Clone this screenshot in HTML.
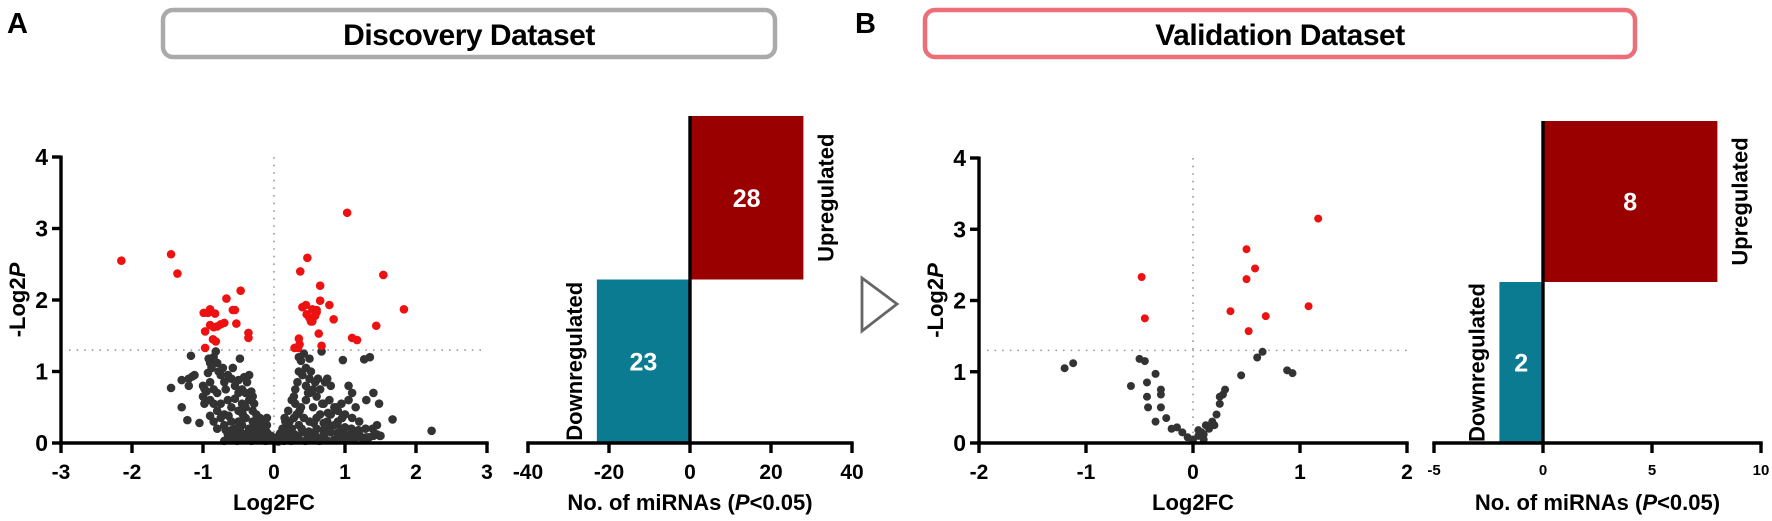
<!DOCTYPE html>
<html><head><meta charset="utf-8">
<style>
html,body{margin:0;padding:0;background:#fff;}
svg{display:block;font-family:"Liberation Sans",sans-serif;}
</style></head>
<body>
<svg id="fig" width="1772" height="521" viewBox="0 0 1772 521">
  <text x="7" y="33" font-size="29" font-weight="bold">A</text>
  <rect x="163" y="10" width="612" height="47" rx="10" fill="#fff" stroke="#aaa" stroke-width="4.5"/>
  <text x="469" y="45" font-size="30" font-weight="bold" text-anchor="middle" letter-spacing="-0.5">Discovery Dataset</text>
  <text x="855" y="33" font-size="29" font-weight="bold">B</text>
  <rect x="925" y="10" width="710" height="47" rx="10" fill="#fff" stroke="#ec6f78" stroke-width="4.5"/>
  <text x="1280" y="45" font-size="30" font-weight="bold" text-anchor="middle" letter-spacing="-0.5">Validation Dataset</text>
  <polygon points="862,278 897,304 862,331" fill="none" stroke="#666" stroke-width="2.8"/>
  <g id="layer"></g>
</svg>
<script>
// ---- data: Discovery volcano ----
const aRedX = [-2.15,-1.45,-1.36,-0.99,-0.93,-0.9,-0.83,-0.97,-0.97,-0.9,-0.85,-0.8,-0.75,-0.7,-0.67,-0.58,-0.55,-0.47,-0.53,-0.36,-0.36,-0.86,-0.82,
  0.29,0.34,0.35,0.36,0.37,0.47,0.4,0.45,0.46,0.5,0.54,0.54,0.6,0.6,0.65,0.65,0.63,0.67,0.78,0.84,1.03,1.1,1.17,1.44,1.54,1.83,0.58,0.52];
const aRedY = [2.55,2.64,2.37,1.82,1.82,1.87,1.81,1.56,1.33,1.65,1.62,1.63,1.66,1.68,2.02,1.86,1.86,2.13,1.67,1.54,1.47,1.45,1.42,
  1.33,1.33,1.46,1.38,2.4,2.59,1.9,1.93,1.8,1.75,1.7,1.87,1.86,1.83,2.2,1.99,1.53,1.36,1.93,1.73,3.22,1.47,1.44,1.64,2.35,1.87,1.78,1.7];
const aGrayX = [-1.17,-1.2,-1.15,-1.12,-1.3,-1.2,-1.0,-0.98,-0.95,-0.92,-0.9,-0.88,-0.93,-0.9,-0.85,-0.8,-0.85,-0.8,-0.78,-0.75,-0.82,-0.72,-0.7,-0.68,-0.65,-0.6,-0.58,-0.55,-0.5,-0.48,-0.45,-0.42,-0.4,-0.38,-0.35,-0.98,-0.9,-0.85,-0.8,-0.75,-0.7,-0.65,-0.6,-0.55,-0.5,-0.45,-0.4,-0.35,-0.3,-0.25,-0.2,-0.3,-0.85,-0.8,-0.7,-0.6,-0.55,-0.5,-0.45,-0.4,-0.35,-0.3,-0.25,-0.2,-0.15,-0.65,-0.6,-0.55,-0.5,-0.45,-0.4,-0.35,-0.3,-0.25,-0.2,-0.15,-0.12,-0.1,-0.08,-0.05,-0.15,-0.1,-1.45,-1.3,-1.22,-1.05,-0.6,-0.28,-0.32,
  0.02,0.05,0.08,0.1,0.12,0.15,0.18,0.2,0.22,0.25,0.28,0.3,0.32,0.35,0.38,0.4,0.42,0.45,0.48,0.5,0.55,0.6,0.65,0.7,0.75,0.8,0.85,0.9,0.95,1.0,1.05,1.1,1.15,1.2,1.3,1.4,1.5,1.45,0.2,0.25,0.3,0.3,0.33,0.35,0.35,0.38,0.4,0.42,0.45,0.45,0.5,0.5,0.5,0.52,0.55,0.58,0.6,0.62,0.65,0.67,0.7,0.72,0.75,0.78,0.8,0.85,0.9,0.95,1.0,1.05,1.05,1.1,1.1,1.15,1.2,1.3,1.4,1.45,1.48,1.67,2.22,0.97,1.27,1.35,0.6,0.7,0.8,0.9,1.0,0.15,0.25,0.55,0.65,0.35,
  -0.7,-0.62,-0.52,-0.42,-0.32,-0.22,-0.12,-0.68,-0.58,-0.48,-0.38,-0.28,-0.18,-0.08,-0.64,-0.44,-0.24,-0.04,-0.9,-0.75,-1.0,-0.5,-0.3,-0.1,
  0.06,0.14,0.24,0.34,0.44,0.54,0.64,0.74,0.84,0.94,1.04,1.14,1.24,1.34,0.09,0.19,0.29,0.39,0.49,0.59,0.69,0.79,0.89,0.99,1.09,1.19,1.29,1.39,1.49,0.16,0.36,0.56,0.76,0.96,0.28,0.48,0.68,0.88];
const aGrayY = [1.22,0.9,0.93,0.95,0.88,0.8,0.8,0.76,0.72,1.18,1.12,1.05,0.98,0.85,0.75,0.7,1.2,1.12,1.0,0.95,1.28,1.05,0.85,0.75,0.95,0.9,1.05,0.8,0.88,1.18,0.75,0.92,0.7,0.85,0.95,0.55,0.6,0.55,0.45,0.55,0.4,0.6,0.5,0.62,0.45,0.55,0.5,0.6,0.45,0.4,0.35,0.3,0.3,0.2,0.25,0.3,0.2,0.3,0.25,0.35,0.2,0.15,0.25,0.2,0.3,0.12,0.08,0.1,0.05,0.12,0.08,0.05,0.1,0.06,0.1,0.12,0.05,0.15,0.08,0.04,0.2,0.25,0.77,0.5,0.32,0.28,0.18,0.55,0.72,
  0.03,0.08,0.12,0.05,0.2,0.1,0.25,0.15,0.3,0.2,0.35,0.1,0.4,0.25,0.5,0.15,0.35,0.6,0.08,0.3,0.5,0.2,0.4,0.1,0.3,0.15,0.25,0.08,0.2,0.12,0.05,0.15,0.08,0.12,0.08,0.1,0.1,0.12,0.45,0.6,0.75,0.55,0.85,1.0,1.2,1.15,0.95,1.25,1.05,0.8,1.18,0.9,0.7,1.0,0.75,0.85,0.65,0.9,0.75,1.28,0.55,0.85,0.9,0.6,0.8,0.5,0.45,0.55,0.4,0.6,0.8,0.7,0.35,0.5,0.3,0.6,0.7,0.25,0.55,0.33,0.17,1.16,1.17,1.2,0.35,0.28,0.4,0.3,0.22,0.35,0.05,0.12,0.05,0.05,
  0.03,0.04,0.03,0.04,0.03,0.04,0.03,0.18,0.16,0.17,0.14,0.16,0.12,0.12,0.38,0.4,0.32,0.1,0.38,0.35,0.65,0.7,0.65,0.35,
  0.02,0.03,0.03,0.04,0.03,0.04,0.03,0.04,0.04,0.05,0.06,0.06,0.07,0.08,0.14,0.18,0.12,0.2,0.16,0.1,0.18,0.22,0.14,0.1,0.2,0.18,0.2,0.2,0.1,0.3,0.45,0.28,0.42,0.35,0.65,0.7,0.55,0.5];
const aXTicks = [-3,-2,-1,0,1,2,3];
const aYTicks = [0,1,2,3,4];
// ---- data: Validation volcano ----
const bRedX = [-0.48,-0.45,0.35,0.5,0.5,0.58,0.52,0.68,1.08,1.17];
const bRedY = [2.33,1.75,1.85,2.72,2.3,2.45,1.57,1.78,1.92,3.15];
const bGrayX = [-1.2,-1.12,-0.58,-0.5,-0.45,-0.43,-0.35,-0.3,-0.3,-0.43,-0.42,-0.3,-0.35,-0.25,-0.2,-0.15,-0.1,-0.05,0,0.05,0.1,0.12,0.15,0.18,0.2,0.22,0.25,0.3,0.25,0.28,0.45,0.6,0.65,0.88,0.93,0.1,0.08,0.05];
const bGrayY = [1.05,1.12,0.8,1.18,1.15,0.85,0.97,0.75,0.68,0.65,0.5,0.5,0.3,0.35,0.2,0.22,0.15,0.08,0.05,0.1,0.12,0.25,0.2,0.3,0.25,0.4,0.55,0.75,0.65,0.68,0.95,1.2,1.28,1.02,0.98,0.05,0.15,0.18];
const bXTicks = [-2,-1,0,1,2];
const bYTicks = [0,1,2,3,4];
// ---- data: bar charts ----
const barCats = ["Upregulated","Downregulated"];
const aBarVals = [28,-23];
const aBarTicks = [-40,-20,0,20,40];
const bBarVals = [8,-2];
const bBarTicks = [-5,0,5,10];

const NS="http://www.w3.org/2000/svg";
const layer=document.getElementById('layer');
function mk(tag,attrs,parent){const e=document.createElementNS(NS,tag);for(const k in attrs)e.setAttribute(k,attrs[k]);(parent||layer).appendChild(e);return e;}

function volcano(cfg){
  const g=mk('g',{});
  
  
  const sx=v=>cfg.x0+(v-cfg.xmin)/(cfg.xmax-cfg.xmin)*(cfg.x1-cfg.x0);
  const sy=v=>cfg.y0-(v/4)*(cfg.y0-cfg.y1);
  const vl=mk('line',{x1:sx(0),x2:sx(0),y1:sy(4),y2:sy(0),stroke:'#999','stroke-width':1.6,'stroke-dasharray':'1.6,6'},g);
  
  
  const hl=mk('line',{x1:cfg.x0+8,x2:cfg.x1,y1:sy(1.3),y2:sy(1.3),stroke:'#999','stroke-width':1.6,'stroke-dasharray':'1.6,6'},g);
  
  
  cfg.gx.forEach((v,i)=>{const c=mk('circle',{cx:sx(v),cy:sy(cfg.gy[i]),r:cfg.r,fill:'#333'},g);
    
    });
  cfg.rx.forEach((v,i)=>{const c=mk('circle',{cx:sx(v),cy:sy(cfg.ry[i]),r:cfg.r,fill:'#ee1111'},g);
    
    });
  const ya=mk('line',{x1:cfg.x0,x2:cfg.x0,y1:sy(4)-1.5,y2:sy(0)+1.5,stroke:'#000','stroke-width':3.4},g);
  
  
  const xa=mk('line',{x1:cfg.x0-1.7,x2:cfg.x1+1.7,y1:sy(0),y2:sy(0),stroke:'#000','stroke-width':3.4},g);
  
  
  cfg.yt.forEach(t=>{mk('line',{x1:cfg.x0-9,x2:cfg.x0,y1:sy(t),y2:sy(t),stroke:'#000','stroke-width':3.4},g);
    const tx=mk('text',{x:cfg.x0-13,y:sy(t)+8,'font-size':23,'font-weight':'bold','text-anchor':'end'},g);tx.textContent=t;
    
    });
  cfg.xt.forEach(t=>{mk('line',{x1:sx(t),x2:sx(t),y1:sy(0),y2:sy(0)+10,stroke:'#000','stroke-width':3.4},g);
    const tx=mk('text',{x:sx(t),y:sy(0)+36,'font-size':21,'font-weight':'bold','text-anchor':'middle'},g);tx.textContent=t;
    
    });
  const xt=mk('text',{x:sx(0),y:sy(0)+67,'font-size':22,'font-weight':'bold','text-anchor':'middle'},g);xt.textContent='Log2FC';
  
  
  const yt=mk('text',{x:0,y:0,'font-size':22,'font-weight':'bold','text-anchor':'middle',transform:`translate(${cfg.x0-36},${(sy(0)+sy(4))/2}) rotate(-90)`},g);
  yt.innerHTML='-Log2<tspan font-style="italic">P</tspan>';
  
  
}

function bars(cfg){
  const g=mk('g',{});
  
  
  const sx=v=>cfg.x0+(v-cfg.xmin)/(cfg.xmax-cfg.xmin)*(cfg.x1-cfg.x0);
  const yTop=cfg.yTop, yBot=cfg.yBot, bandH=(yBot-yTop)/barCats.length;
  barCats.forEach((c,i)=>{
    const v=cfg.vals[i];
    const y=yTop+i*bandH;
    const x=Math.min(sx(0),sx(v)), w=Math.abs(sx(v)-sx(0));
    const r=mk('rect',{x:x,y:y,width:w,height:bandH,fill:v>=0?'#9b0000':'#0b7b91'},g);
    
    
    const t=mk('text',{x:x+w/2,y:y+bandH/2+9,'font-size':25,'font-weight':'bold',fill:'#fff','text-anchor':'middle'},g);
    t.textContent=Math.abs(v);
    
    
    const lx=v>=0?sx(v)+30:sx(v)-15;
    const cl=mk('text',{x:0,y:0,'font-size':22,'font-weight':'bold','text-anchor':'middle',transform:`translate(${lx},${y+bandH/2}) rotate(-90)`},g);
    cl.textContent=c;
    
    
  });
  const va=mk('line',{x1:sx(0),x2:sx(0),y1:yTop,y2:yBot,stroke:'#000','stroke-width':3.4},g);
  
  
  const xa=mk('line',{x1:cfg.x0-1.7,x2:cfg.x1+1.7,y1:yBot,y2:yBot,stroke:'#000','stroke-width':3.4},g);
  
  
  cfg.ticks.forEach(t=>{mk('line',{x1:sx(t),x2:sx(t),y1:yBot,y2:yBot+10,stroke:'#000','stroke-width':3.4},g);
    const tx=mk('text',{x:sx(t),y:yBot+cfg.tdy,'font-size':cfg.tfs,'font-weight':'bold','text-anchor':'middle'},g);tx.textContent=t;
    
    });
  const at=mk('text',{x:(cfg.x0+cfg.x1)/2,y:yBot+67,'font-size':22,'font-weight':'bold','text-anchor':'middle'},g);
  at.innerHTML='No. of miRNAs (<tspan font-style="italic">P</tspan>&lt;0.05)';
  
  
}

volcano({name:'discovery-volcano-plot',x0:61,x1:487,xmin:-3,xmax:3,y0:443,y1:157,r:4.3,gx:aGrayX,gy:aGrayY,rx:aRedX,ry:aRedY,xt:aXTicks,yt:aYTicks});
volcano({name:'validation-volcano-plot',x0:979,x1:1407,xmin:-2,xmax:2,y0:443,y1:158,r:4,gx:bGrayX,gy:bGrayY,rx:bRedX,ry:bRedY,xt:bXTicks,yt:bYTicks});
bars({name:'discovery-bar-chart',x0:528,x1:852,xmin:-40,xmax:40,yTop:116,yBot:443,vals:aBarVals,ticks:aBarTicks,tfs:21,tdy:36});
bars({name:'validation-bar-chart',x0:1434,x1:1761,xmin:-5,xmax:10,yTop:121,yBot:443,vals:bBarVals,ticks:bBarTicks,tfs:15,tdy:32});
</script>
</body></html>
